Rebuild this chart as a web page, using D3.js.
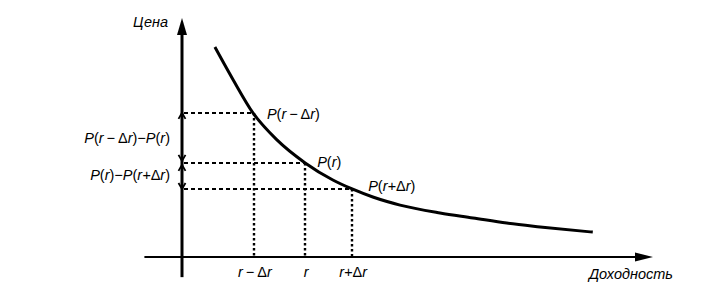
<!DOCTYPE html>
<html>
<head>
<meta charset="utf-8">
<script src="https://cdn.jsdelivr.net/npm/d3@7"></script>
<style>
  body { margin: 0; background: #fff; }
  text { font-family: 'Liberation Sans', Arial, sans-serif; font-style: italic; font-size: 14.5px; fill: #000; }
</style>
</head>
<body>
<div id="chart"></div>
<script>
'use strict';

// price-yield curve (yield, price in arbitrary units)
const curveYield = [0.70, 1.09, 1.51, 2.02, 2.62, 3.21, 3.62, 4.06, 4.64, 5.49, 6.19, 6.91, 7.62, 8.74];
const curvePrice = [8.86, 7.47, 6.08, 4.94, 3.97, 3.25, 2.87, 2.53, 2.19, 1.86, 1.65, 1.43, 1.27, 1.05];

// the three marked points: r - dr, r, r + dr
const markYield = [1.53, 2.62, 3.62];
const markPrice = [6.08, 3.97, 2.87];
const markLabels = [['P', '(', 'r', '\u2009\u2212\u2009', 'Δ', 'r', ')'],
                    ['P', '(', 'r', ')'],
                    ['P', '(', 'r', '+', 'Δ', 'r', ')']];
const tickLabels = [['r', '\u2009\u2212\u2009', 'Δ', 'r'], ['r'], ['r', '+', 'Δ', 'r']];
const diffLabels = [['P', '(', 'r', '\u2009\u2212\u2009', 'Δ', 'r', ')', '\u2212', 'P', '(', 'r', ')'],
                    ['P', '(', 'r', ')', '\u2212', 'P', '(', 'r', '+', 'Δ', 'r', ')']];
const xTitle = 'Доходность';
const yTitle = 'Цена';

const width = 714, height = 297;
const svg = d3.select('#chart').append('svg').attr('width', width).attr('height', height);

const x = d3.scaleLinear().domain([0, 10]).range([182, 652]);
const y = d3.scaleLinear().domain([0, 10]).range([257, 20]);

//axes
svg.append('line').attr('x1', x(-0.8)).attr('x2', x(10) - 12).attr('y1', y(0)).attr('y2', y(0))
  .attr('stroke', '#000').attr('stroke-width', 2);
svg.append('path').attr('fill', '#000')
  .attr('d', `M${x(10) + 1},${y(0)} L${x(10) - 17},${y(0) - 4.5} L${x(10) - 17},${y(0) + 4.5} Z`);
svg.append('line').attr('x1', x(0)).attr('x2', x(0)).attr('y1', y(-0.85)).attr('y2', y(10) + 12)
  .attr('stroke', '#000').attr('stroke-width', 3);
svg.append('path').attr('fill', '#000')
  .attr('d', `M${x(0)},${y(10) - 2} L${x(0) - 5},${y(10) + 15} L${x(0) + 5},${y(10) + 15} Z`);

//dotted guides
markYield.forEach(function(v, i) {
  let gx = Math.round(x(v)), gy = Math.round(y(markPrice[i]));
  svg.append('line').attr('x1', x(0) + 2).attr('x2', gx).attr('y1', gy).attr('y2', gy)
    .attr('stroke', '#000').attr('stroke-width', 2.2).attr('stroke-dasharray', '4,3');
  svg.append('line').attr('x1', gx).attr('x2', gx).attr('y1', gy).attr('y2', y(0))
    .attr('stroke', '#000').attr('stroke-width', 2.4).attr('stroke-dasharray', '2.5,2.5');
});

//curve
const pts = curveYield.map((v, i) => ({x: v, y: curvePrice[i]}));
const line = d3.line()
  .x(function(d) { return x(d.x) })
  .y(function(d) { return y(d.y) })
  .curve(d3.curveMonotoneX);
svg.append('path').attr('fill', 'none').attr('stroke', '#000').attr('stroke-width', 3)
  .attr('d', line(pts));

//small dimension arrows on the price axis
function chevron(px, py, dir) {
  svg.append('path').attr('fill', 'none').attr('stroke', '#000').attr('stroke-width', 1.8)
    .attr('d', `M${px - 3.5},${py + dir * 6} L${px},${py} L${px + 3.5},${py + dir * 6}`);
}
chevron(x(0), y(markPrice[0]), 1);
chevron(x(0), y(markPrice[1]) - 2, -1);
chevron(x(0), y(markPrice[1]) + 2, 1);
chevron(x(0), y(markPrice[2]), -1);

//labels
function addLabel(parts, tx, ty, anchor) {
  const t = svg.append('text').attr('x', tx).attr('y', ty).attr('text-anchor', anchor || 'start');
  parts.forEach(function(p) {
    const s = t.append('tspan').text(p);
    if (p === 'Δ' || p === '(' || p === ')') s.style('font-style', 'normal');
  });
  return t;
}
addLabel(markLabels[0], x(markYield[0]) + 13, y(markPrice[0]) + 6);
addLabel(markLabels[1], x(markYield[1]) + 12, y(markPrice[1]) + 4);
addLabel(markLabels[2], x(markYield[2]) + 16, y(markPrice[2]) + 2);

tickLabels.forEach(function(l, i) {
  addLabel(l, x(markYield[i]) + 1, y(0) + 20, 'middle');
});

addLabel(diffLabels[0], x(0) - 12, (y(markPrice[0]) + y(markPrice[1])) / 2 + 5, 'end');
addLabel(diffLabels[1], x(0) - 12, (y(markPrice[1]) + y(markPrice[2])) / 2 + 4, 'end');

svg.append('text').attr('x', x(0) - 14).attr('y', 27).attr('text-anchor', 'end').text(yTitle);
svg.append('text').attr('x', 673).attr('y', 279).attr('text-anchor', 'end').text(xTitle);
</script>
</body>
</html>
